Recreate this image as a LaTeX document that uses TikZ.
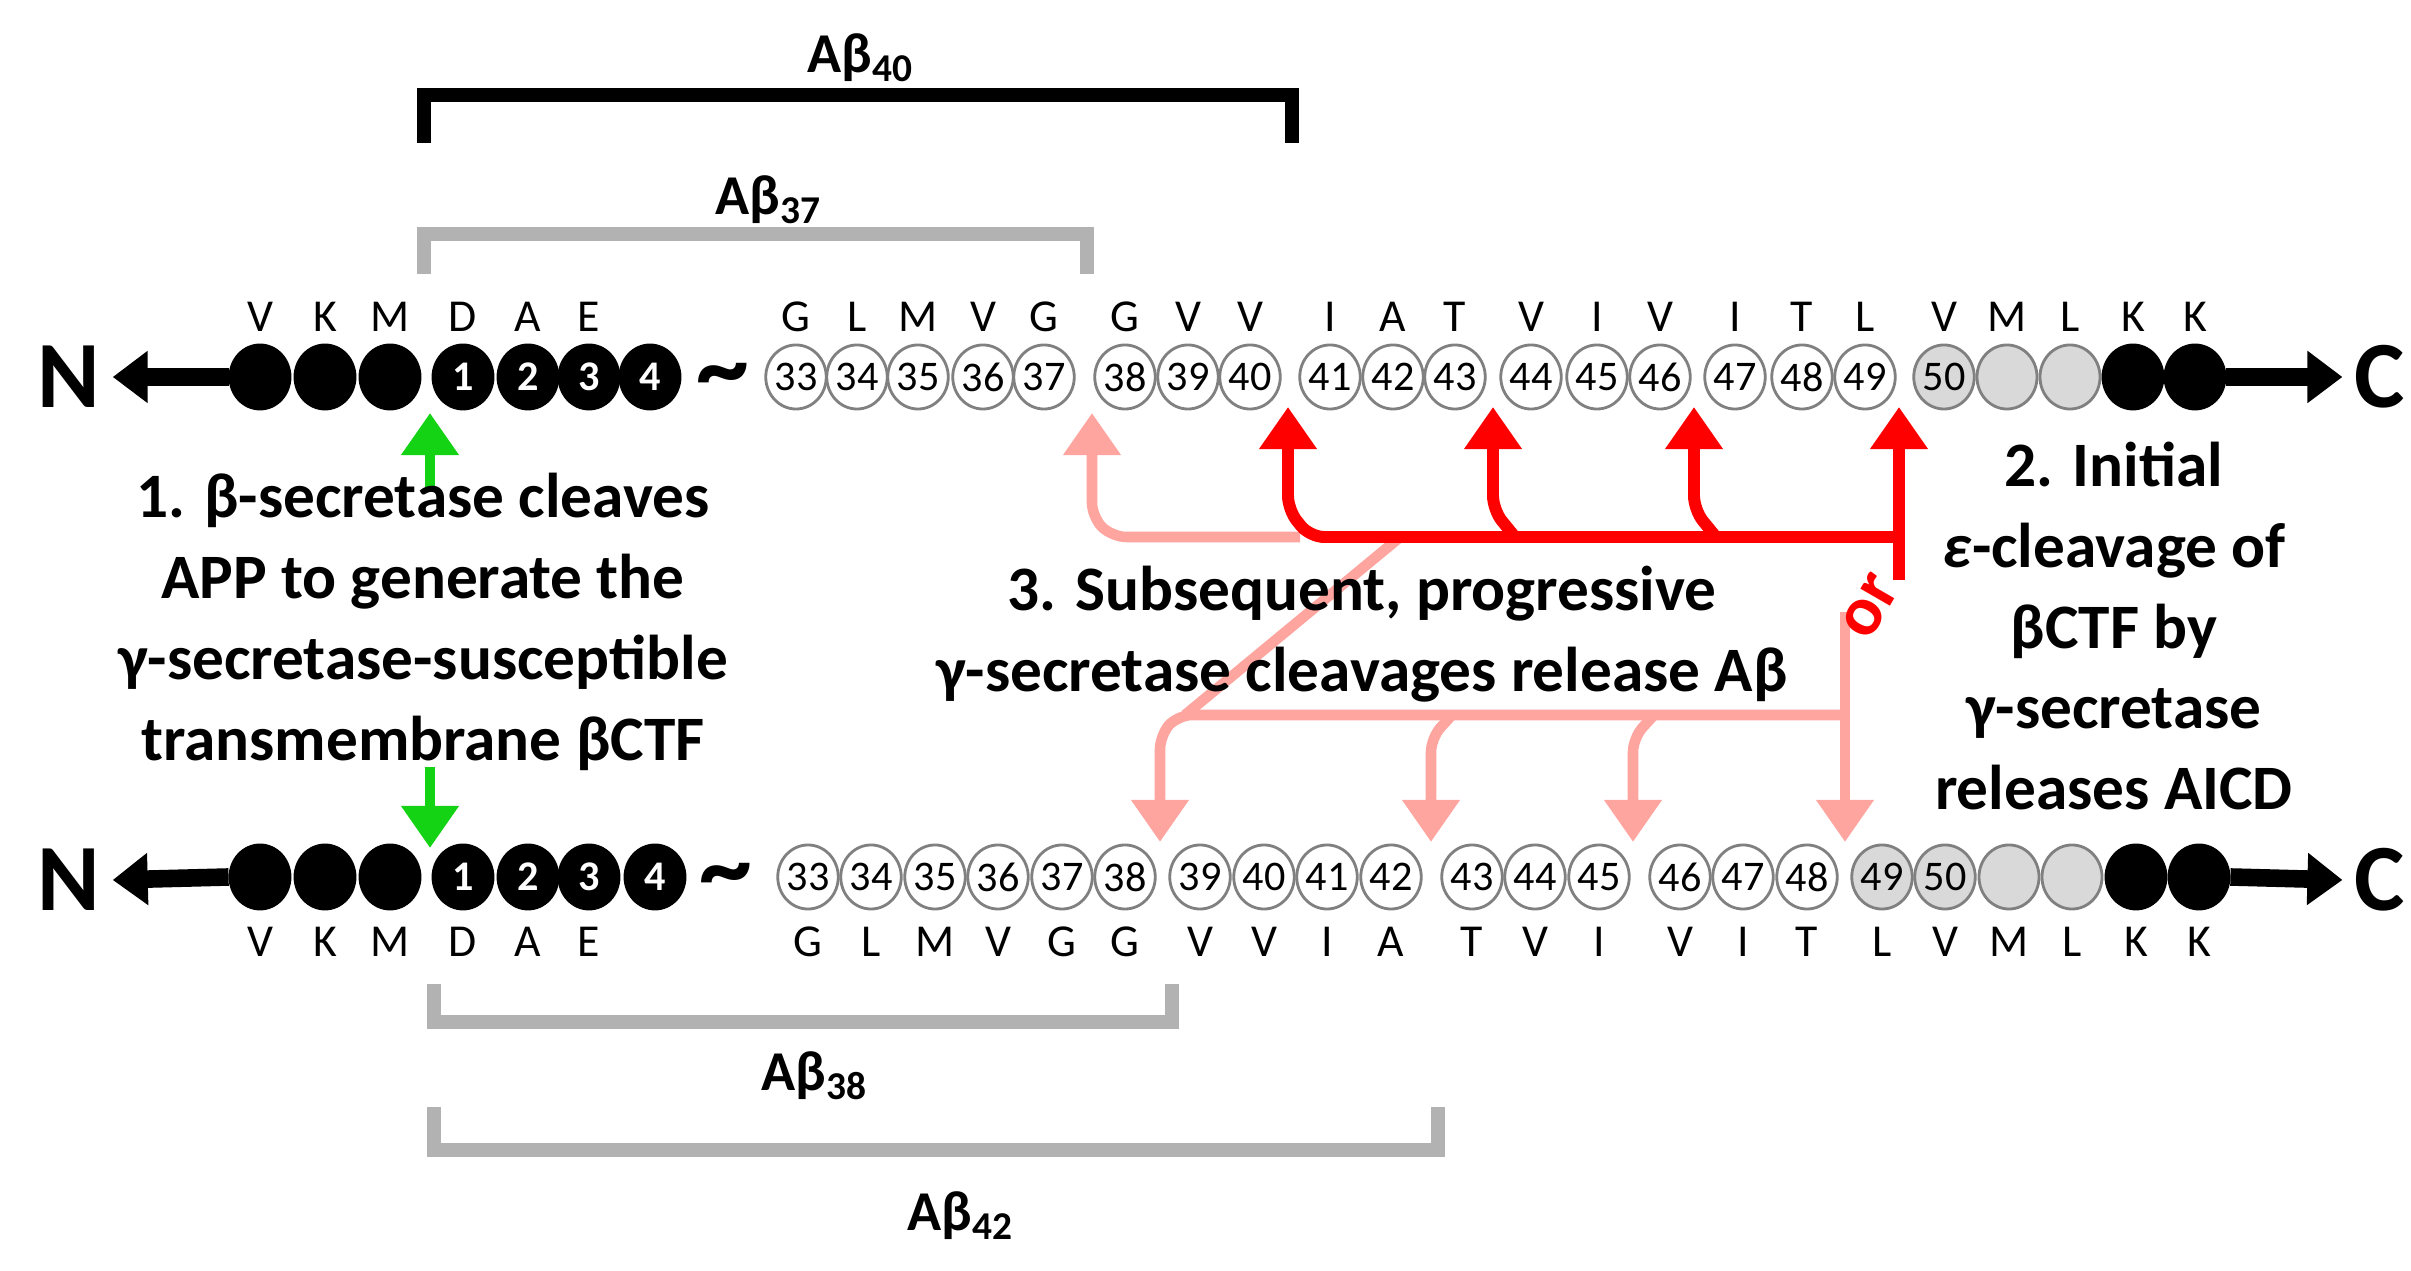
\documentclass[tikz,border=0pt]{standalone}
\usepackage{fontspec}
\setmainfont{Carlito}
\usetikzlibrary{arrows.meta,shapes.geometric}
\definecolor{pinkc}{RGB}{255,165,160}
\definecolor{greenc}{RGB}{20,210,20}
\tikzset{
 res/.style={ellipse,draw=gray,line width=0.8pt,minimum width=0.6cm,minimum height=0.64cm,inner sep=0pt,font=\fontsize{12}{12}\selectfont},
 blk/.style={res,fill=black,draw=black,text=white,font=\bfseries\fontsize{12}{12}\selectfont},
 opn/.style={res,fill=white},
 gry/.style={res,fill=gray!30},
 aa/.style={font=\fontsize{13}{13}\selectfont},
 term/.style={font=\fontsize{27}{27}\selectfont\bfseries},
 redarr/.style={red,line width=3.4pt,rounded corners=4pt,-{Triangle[length=0.42cm,width=0.55cm]}},
 pinkarr/.style={pinkc,line width=3pt,rounded corners=4pt,-{Triangle[length=0.42cm,width=0.55cm]}},
 greenarr/.style={greenc,line width=3pt,-{Triangle[length=0.42cm,width=0.55cm]}},
 blkarr/.style={black,line width=5pt,-{Triangle[length=0.35cm,width=0.5cm]}},
 lbl/.style={font=\bfseries\fontsize{18}{23}\selectfont,align=center},
 brk/.style={line width=4pt},
 brklbl/.style={font=\bfseries\fontsize{16}{16}\selectfont},
 tilde/.style={font=\bfseries\fontsize{30}{30}\selectfont},
}
\begin{document}
\begin{tikzpicture}[x=0.01cm,y=-0.01cm]
\useasboundingbox (0,0) rectangle (2411,1271);
% top row
\node[term] (tN) at (69,377) {N};
\node[term] (tC) at (2380,377) {C};
\foreach \x/\l/\s/\a [count=\i] in {260//blk/V,325//blk/K,390//blk/M,463/1/blk/D,528/2/blk/A,589/3/blk/E,650/4/blk/,
 796/33/opn/G,857/34/opn/L,918/35/opn/M,983/36/opn/V,1044/37/opn/G,1125/38/opn/G,1188/39/opn/V,1250/40/opn/V,
 1330/41/opn/I,1393/42/opn/A,1455/43/opn/T,1531/44/opn/V,1597/45/opn/I,1660/46/opn/V,1735/47/opn/I,1802/48/opn/T,1865/49/opn/L,
 1944/50/gry/V,2007//gry/M,2070//gry/L,2133//blk/K,2195//blk/K}{
 \node[\s] (t\i) at (\x,377) {\l};
 \node[aa] (ta\i) at (\x,317) {\a};
}
\node[tilde] (ttil) at (723,383) {\textasciitilde};
\draw[blkarr] (t1.west) -- (tN.east);
\draw[blkarr] (t29.east) -- (tC.west);
% bottom row
\node[term] (bN) at (69,880) {N};
\node[term] (bC) at (2380,880) {C};
\foreach \x/\l/\s/\a [count=\i] in {260//blk/V,325//blk/K,390//blk/M,463/1/blk/D,528/2/blk/A,589/3/blk/E,655/4/blk/,
 808/33/opn/G,871/34/opn/L,935/35/opn/M,998/36/opn/V,1062/37/opn/G,1125/38/opn/G,1200/39/opn/V,1264/40/opn/V,
 1327/41/opn/I,1391/42/opn/A,1472/43/opn/T,1535/44/opn/V,1599/45/opn/I,1680/46/opn/V,1743/47/opn/I,1807/48/opn/T,
 1882/49/gry/L,1945/50/gry/V,2009//gry/M,2072//gry/L,2136//blk/K,2199//blk/K}{
 \node[\s] (b\i) at (\x,877) {\l};
 \node[aa] (ba\i) at (\x,942) {\a};
}
\node[tilde] (btil) at (726,883) {\textasciitilde};
\draw[blkarr] (b1.west) -- (bN.east);
\draw[blkarr] (b29.east) -- (bC.west);
% brackets
\draw[brk] (424,143) |- (1292,95) -- (1292,143);
\node[brklbl] (l40) at (861,58) {Aβ\textsubscript{40}};
\draw[brk,gray!60] (424,274) |- (1087,234) -- (1087,274);
\node[brklbl] (l37) at (769,200) {Aβ\textsubscript{37}};
\draw[brk,gray!60] (434,984) |- (1172,1022) -- (1172,984);
\node[brklbl] (l38) at (815,1076) {Aβ\textsubscript{38}};
\draw[brk,gray!60] (434,1107) |- (1438,1150) -- (1438,1107);
\node[brklbl] (l42) at (961,1216) {Aβ\textsubscript{42}};
% green arrows
\coordinate (g1s) at (430,488);
\coordinate (g1t) at (430,413);
\draw[greenarr] (g1s) -- (g1t);
\coordinate (g2s) at (430,767);
\coordinate (g2t) at (430,848);
\draw[greenarr] (g2s) -- (g2t);
% pink top arrow
\coordinate (pj) at (1300,537);
\coordinate (p37) at (1092,413);
\draw[pinkarr] (pj) -- (1112,537) -- (1092,517) -- (p37);
% pink diagonal
\coordinate (dg1) at (1399,538);
\coordinate (dg2) at (1185,715);
\draw[pinkc,line width=3pt] (dg1) -- (dg2);
% pink bottom
\coordinate (pb0) at (1845,612);
\coordinate (pb1) at (1160,842);
\coordinate (pb2) at (1431,842);
\coordinate (pb3) at (1633,842);
\coordinate (pb4) at (1845,842);
\draw[pinkarr] (pb0) -- (pb4);
\draw[pinkarr] (1845,715) -- (1178,715) -- (1160,735) -- (pb1);
\draw[pinkarr] (1452,715) -- (1431,738) -- (pb2);
\draw[pinkarr] (1654,715) -- (1633,738) -- (pb3);
% red
\coordinate (r0) at (1899,580);
\coordinate (r1) at (1288,407);
\coordinate (r2) at (1493,407);
\coordinate (r3) at (1694,407);
\coordinate (r4) at (1899,407);
\draw[redarr] (r0) -- (r4);
\draw[redarr] (1899,537) -- (1310,537) -- (1288,510) -- (r1);
\draw[redarr] (1515,537) -- (1493,510) -- (r2);
\draw[redarr] (1716,537) -- (1694,510) -- (r3);
\node[red,rotate=60,font=\bfseries\fontsize{20}{20}\selectfont] (or) at (1870,607) {or};
% texts
\node[lbl] (txt1) at (423,622) {1. β-secretase cleaves\\APP to generate the\\γ-secretase-susceptible\\transmembrane βCTF};
\node[lbl] (txt2) at (2114,626) {2. Initial\\\textit{ε}-cleavage of\\βCTF by\\γ-secretase\\releases AICD};
\node[lbl] (txt3) at (1362,634) {3. Subsequent, progressive\\γ-secretase cleavages release Aβ};
\end{tikzpicture}
\end{document}
